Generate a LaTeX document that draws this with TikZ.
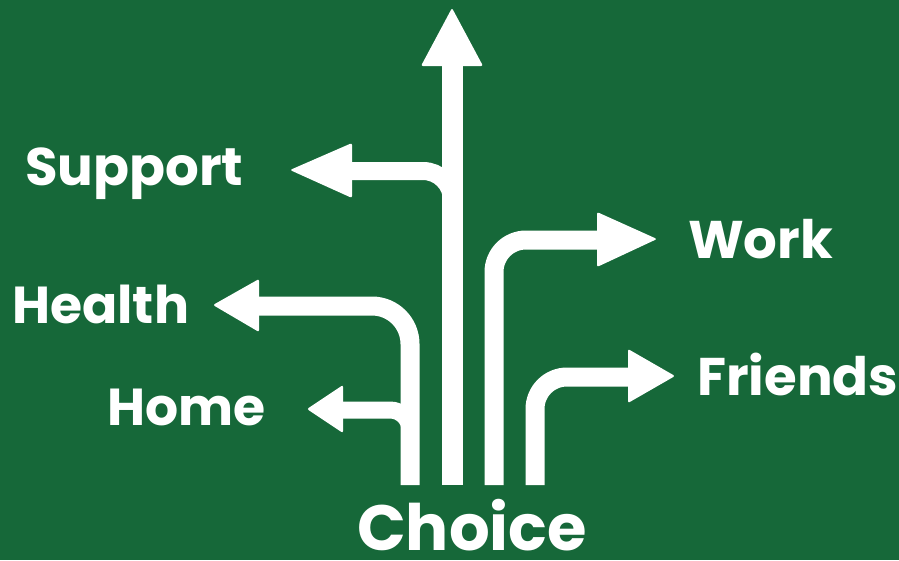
\documentclass[tikz,border=0pt]{standalone}
\usepackage{fontspec}
\setmainfont{Poppins}
\definecolor{bg}{RGB}{22,104,57}
\begin{document}
\begin{tikzpicture}[x=1pt,y=-1pt,
  road/.style={draw=white,line width=19pt,line cap=butt},
  head/.style={fill=white,rounded corners=2pt},
  lbl/.style={text=white,inner sep=0pt,anchor=base west,font=\bfseries\fontsize{53}{60}\selectfont}]
\fill[bg] (0,0) rectangle (899,560);
\useasboundingbox (0,0) rectangle (899,560);
% base points
\coordinate (bHealth) at (410,485);
\coordinate (bMain) at (452,485);
\coordinate (bWork) at (494,485);
\coordinate (bFriends) at (535,485);
% main up arrow
\coordinate (tMain) at (452,8);
\draw[road,line width=21pt] (bMain) -- (452,62);
\fill[head] (tMain) -- (483,66) -- (421,66) -- cycle;
% support
\coordinate (tSupport) at (290,170);
\draw[road,line width=18pt,rounded corners=29pt] (452,240) -- (452,171) -- (348,171);
\fill[head] (tSupport) -- (352,143) -- (352,198) -- cycle;
% health
\coordinate (tHealth) at (213,305);
\draw[road,rounded corners=38pt] (bHealth) -- (410,306) -- (255,306);
\fill[head] (tHealth) -- (259,279) -- (259,332) -- cycle;
% home
\coordinate (tHome) at (307,409);
\draw[road,line width=17pt,rounded corners=20pt] (410,450) -- (410,410) -- (340,410);
\fill[head] (tHome) -- (343,385) -- (343,433) -- cycle;
% work
\coordinate (tWork) at (657,239);
\draw[road,rounded corners=32pt] (bWork) -- (494,240) -- (600,240);
\fill[head] (tWork) -- (597,212) -- (597,267) -- cycle;
% friends
\coordinate (tFriends) at (675,376);
\draw[road,rounded corners=32pt] (bFriends) -- (535,377) -- (631,377);
\fill[head] (tFriends) -- (628,349) -- (628,403) -- cycle;
% labels
\node[lbl] (Support) at (25,185) {Support};
\node[lbl,font=\bfseries\fontsize{52}{60}\selectfont] (Health) at (12,323) {Health};
\node[lbl,font=\bfseries\fontsize{52}{60}\selectfont] (Home) at (107,425) {Home};
\node[lbl] (Work) at (688,258) {Work};
\node[lbl] (Friends) at (697,395) {Friends};
\node[lbl,font=\bfseries\fontsize{64}{70}\selectfont] (Choice) at (357,550) {Choice};
\end{tikzpicture}
\end{document}
